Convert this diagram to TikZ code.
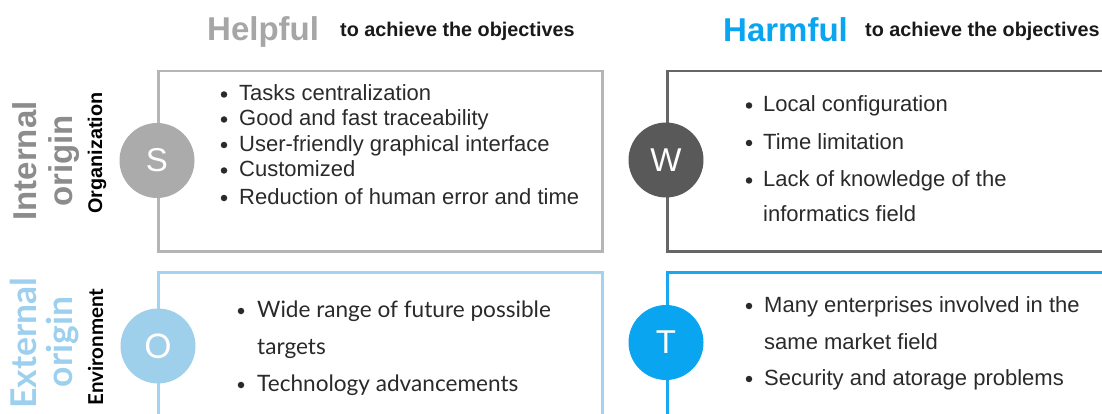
\documentclass[tikz,border=0pt]{standalone}
\usepackage{fontspec}
\setmainfont{Liberation Sans}
\newfontfamily\lato{Lato}
\definecolor{helpgray}{HTML}{A6A6A6}
\definecolor{intgray}{HTML}{8C8C8C}
\definecolor{harmblue}{HTML}{0AA5F0}
\definecolor{extblue}{HTML}{9DD0EE}
\definecolor{sgray}{HTML}{ABABAB}
\definecolor{sline}{HTML}{B5B5B5}
\definecolor{wgray}{HTML}{595959}
\definecolor{wline}{HTML}{666666}
\definecolor{oblue}{HTML}{9ED0EC}
\definecolor{oline}{HTML}{A3D3EE}
\definecolor{tblue}{HTML}{0AA5F0}
\definecolor{tline}{HTML}{1AA7F2}
\definecolor{txt}{HTML}{2A2A2A}
\tikzset{
  box/.style={draw, line width=2.5pt, anchor=north west, inner sep=0pt, minimum height=180pt},
  letter/.style={circle, minimum size=75pt, inner sep=0pt, text=white, font=\fontsize{33}{33}\selectfont},
  item/.style={anchor=base west, inner sep=0pt, text=txt, font=\fontsize{22}{25}\selectfont},
  oitem/.style={anchor=base west, inner sep=0pt, text=txt, font=\lato\fontsize{22.6}{25}\selectfont},
  dot/.style={circle, fill=txt, inner sep=0pt, minimum size=6.5pt},
  head/.style={anchor=base west, inner sep=0pt, font=\bfseries\fontsize{33}{33}\selectfont},
  sub/.style={anchor=base west, inner sep=0pt, text=black!90, font=\bfseries\fontsize{19.8}{20}\selectfont},
  side/.style={rotate=90, anchor=base, inner sep=0pt, font=\bfseries\fontsize{33}{33}\selectfont},
  lside/.style={rotate=90, anchor=base, inner sep=0pt, font=\lato\bfseries\fontsize{35.5}{35}\selectfont},
  small/.style={rotate=90, anchor=base, inner sep=0pt, text=black, font=\bfseries\fontsize{19.8}{20}\selectfont},
  lsmall/.style={rotate=90, anchor=base, inner sep=0pt, text=black, font=\lato\bfseries\fontsize{20.5}{20}\selectfont},
}
\begin{document}
\begin{tikzpicture}[x=1pt,y=-1pt]
\useasboundingbox (0,0) rectangle (1102,414);
\clip (0,0) rectangle (1102,414);
% headers
\node[head, text=helpgray] (help) at (207,41) {Helpful};
\node[sub] (helpsub) at (340,37) {to achieve the objectives};
\node[head, text=harmblue] (harm) at (723,42) {Harmful};
\node[sub] (harmsub) at (865,37) {to achieve the objectives};
% side labels
\node[side, text=intgray] (internal) at (36,161) {Internal};
\node[side, text=intgray] (iorigin) at (72,161) {origin};
\node[small] (org) at (102,153) {Organization};
\node[lside, text=extblue] (external) at (36,343) {External};
\node[lside, text=extblue] (eorigin) at (72,342) {origin};
\node[lsmall] (env) at (103,347) {Environment};
% boxes
\node[box, draw=sline, minimum width=444pt] (sbox) at (157,70) {};
\node[box, draw=wline, minimum width=500pt] (wbox) at (666,70) {};
\node[box, draw=oline, minimum width=444pt] (obox) at (157,271) {};
\node[box, draw=tline, minimum width=500pt] (tbox) at (666,271) {};
% circles
\node[letter, fill=sgray] (S) at (157,160.5) {S};
\node[letter, fill=wgray] (W) at (666,160) {W};
\node[letter, fill=oblue, font=\lato\fontsize{34}{34}\selectfont] (O) at (158,346) {O};
\node[letter, fill=tblue] (T) at (666,342.5) {T};
% S items
\node[dot] (sd1) at (224,94.5) {}; \node[item] (s1) at (239,100.7) {Tasks centralization};
\node[dot] (sd2) at (224,119.5) {}; \node[item] (s2) at (239,125.7) {Good and fast traceability};
\node[dot] (sd3) at (224,145) {}; \node[item] (s3) at (239,151.2) {User-friendly graphical interface};
\node[dot] (sd4) at (224,170.5) {}; \node[item] (s4) at (239,176.7) {Customized};
\node[dot] (sd5) at (224,198) {}; \node[item] (s5) at (239,204.2) {Reduction of human error and time};
% W items
\node[dot] (wd1) at (749,105.5) {}; \node[item] (w1) at (763,111.7) {Local configuration};
\node[dot] (wd2) at (749,143) {}; \node[item] (w2) at (763,149.3) {Time limitation};
\node[dot] (wd3) at (749,180.5) {}; \node[item] (w3) at (763,186.7) {Lack of knowledge of the};
\node[item] (w4) at (763,222) {informatics field};
% O items
\node[dot] (od1) at (241,311) {}; \node[oitem] (o1) at (257,317.3) {Wide range of future possible};
\node[oitem] (o2) at (257,354.3) {targets};
\node[dot] (od3) at (241,385) {}; \node[oitem] (o3) at (257,391) {Technology advancements};
% T items
\node[dot] (td1) at (749,306) {}; \node[item] (t1) at (764,312.3) {Many enterprises involved in the};
\node[item] (t2) at (764,349) {same market field};
\node[dot] (td3) at (749,379) {}; \node[item] (t3) at (764,385) {Security and atorage problems};
\end{tikzpicture}
\end{document}
